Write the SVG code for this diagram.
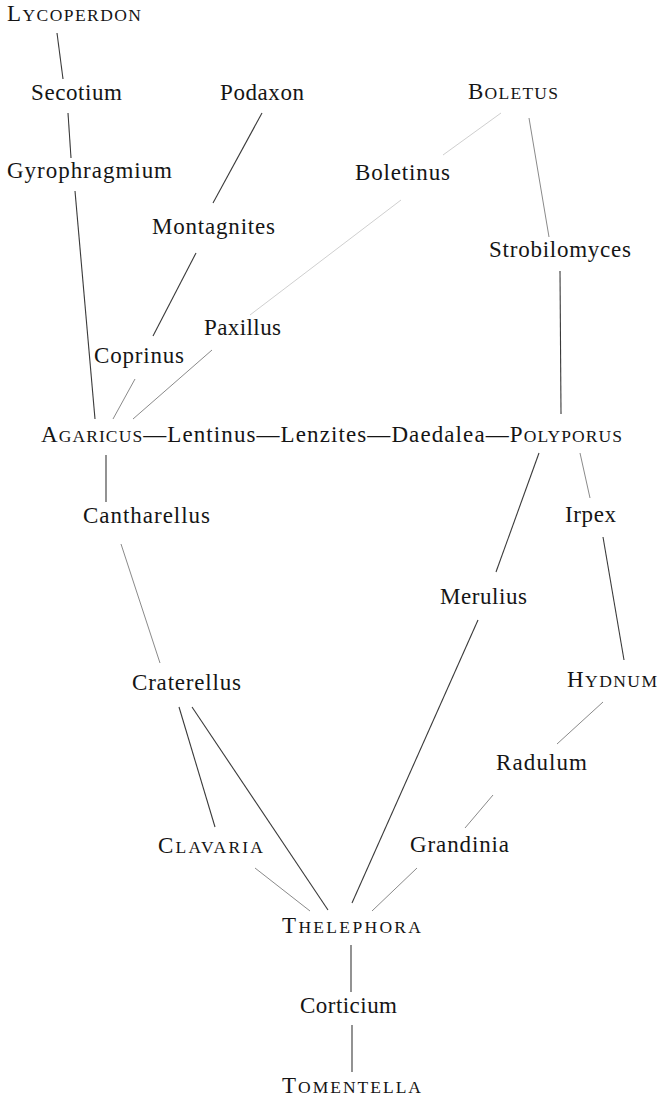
<svg xmlns="http://www.w3.org/2000/svg" width="662" height="1098" viewBox="0 0 662 1098">
<style>
text{font-family:"Liberation Serif","Times New Roman",serif;font-size:23px;fill:#151515}
.s{font-size:17.5px}
.c line{stroke:#3a3a3a;stroke-width:1.1;fill:none}
.c line.l{stroke:#8a8a8a;stroke-width:1}
.c line.f{stroke:#cfcfcf;stroke-width:1}
</style>
<rect width="662" height="1098" fill="#fff"/>
<g id="connectors" class="c">
<line x1="57" y1="33" x2="63" y2="79"/>
<line x1="68" y1="113" x2="71" y2="158"/>
<line x1="75" y1="191" x2="95" y2="419"/>
<line x1="262" y1="113" x2="213" y2="203"/>
<line x1="196" y1="253" x2="153" y2="336"/>
<line class="l" x1="135" y1="379" x2="113" y2="419"/>
<line class="l" x1="212" y1="350" x2="133" y2="419"/>
<line class="f" x1="501" y1="113" x2="443" y2="155"/>
<line class="f" x1="401" y1="200" x2="250" y2="315"/>
<line class="l" x1="529" y1="118" x2="549" y2="237"/>
<line x1="560" y1="271" x2="561" y2="414"/>
<line x1="106" y1="455" x2="106" y2="502"/>
<line x1="539" y1="453" x2="496" y2="572"/>
<line class="l" x1="580" y1="453" x2="590" y2="498"/>
<line class="l" x1="121" y1="544" x2="160" y2="663"/>
<line x1="603" y1="537" x2="624" y2="660"/>
<line x1="478" y1="620" x2="352" y2="903"/>
<line x1="179" y1="707" x2="215" y2="827"/>
<line x1="192" y1="707" x2="328" y2="910"/>
<line class="l" x1="603" y1="702" x2="557" y2="744"/>
<line class="l" x1="493" y1="795" x2="465" y2="828"/>
<line class="l" x1="255" y1="868" x2="310" y2="911"/>
<line class="l" x1="417" y1="868" x2="372" y2="911"/>
<line x1="351" y1="945" x2="351" y2="992"/>
<line x1="352" y1="1025" x2="352" y2="1072"/>
</g>
<g id="lycoperdon"><text x="7" y="21" textLength="134" lengthAdjust="spacing">L<tspan class="s">YCOPERDON</tspan></text></g>
<g id="secotium"><text x="31" y="100" textLength="91" lengthAdjust="spacing">Secotium</text></g>
<g id="podaxon"><text x="220" y="100" textLength="84" lengthAdjust="spacing">Podaxon</text></g>
<g id="boletus"><text x="468" y="99" textLength="90" lengthAdjust="spacing">B<tspan class="s">OLETUS</tspan></text></g>
<g id="gyrophragmium"><text x="7" y="178" textLength="165" lengthAdjust="spacing">Gyrophragmium</text></g>
<g id="boletinus"><text x="355" y="180" textLength="95" lengthAdjust="spacing">Boletinus</text></g>
<g id="montagnites"><text x="152" y="234" textLength="123" lengthAdjust="spacing">Montagnites</text></g>
<g id="strobilomyces"><text x="489" y="257" textLength="142" lengthAdjust="spacing">Strobilomyces</text></g>
<g id="paxillus"><text x="204" y="335" textLength="77" lengthAdjust="spacing">Paxillus</text></g>
<g id="coprinus"><text x="94" y="363" textLength="90" lengthAdjust="spacing">Coprinus</text></g>
<g id="agaricus-row"><text x="41" y="442" textLength="581" lengthAdjust="spacing">A<tspan class="s">GARICUS</tspan>—Lentinus—Lenzites—Daedalea—P<tspan class="s">OLYPORUS</tspan></text></g>
<g id="cantharellus"><text x="83" y="523" textLength="127" lengthAdjust="spacing">Cantharellus</text></g>
<g id="irpex"><text x="565" y="522" textLength="51" lengthAdjust="spacing">Irpex</text></g>
<g id="merulius"><text x="440" y="604" textLength="87" lengthAdjust="spacing">Merulius</text></g>
<g id="craterellus"><text x="132" y="690" textLength="109" lengthAdjust="spacing">Craterellus</text></g>
<g id="hydnum"><text x="567" y="687" textLength="90" lengthAdjust="spacing">H<tspan class="s">YDNUM</tspan></text></g>
<g id="radulum"><text x="496" y="770" textLength="91" lengthAdjust="spacing">Radulum</text></g>
<g id="clavaria"><text x="158" y="853" textLength="105" lengthAdjust="spacing">C<tspan class="s">LAVARIA</tspan></text></g>
<g id="grandinia"><text x="410" y="852" textLength="99" lengthAdjust="spacing">Grandinia</text></g>
<g id="thelephora"><text x="282" y="933" textLength="139" lengthAdjust="spacing">T<tspan class="s">HELEPHORA</tspan></text></g>
<g id="corticium"><text x="300" y="1013" textLength="97" lengthAdjust="spacing">Corticium</text></g>
<g id="tomentella"><text x="282" y="1093" textLength="139" lengthAdjust="spacing">T<tspan class="s">OMENTELLA</tspan></text></g>
</svg>
